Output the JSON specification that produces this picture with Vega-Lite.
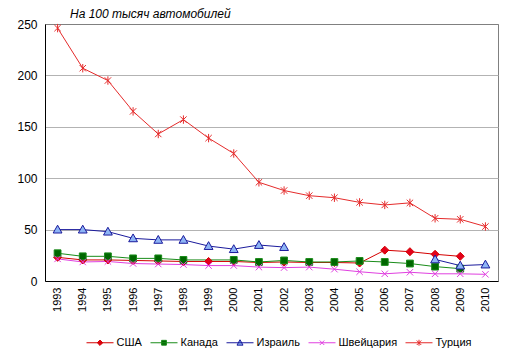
{
  "$schema": "https://vega.github.io/schema/vega-lite/v6.json",
  "width": 453,
  "height": 257,
  "autosize": {"type": "none"},
  "padding": {"left": 45, "top": 24, "right": 16, "bottom": 77},
  "background": "white",
  "config": {
    "view": {"stroke": "#808080", "strokeWidth": 1},
    "font": "Liberation Sans"
  },
  "title": {
    "text": "На 100 тысяч автомобилей",
    "anchor": "start",
    "frame": "group",
    "dx": 25,
    "dy": 17,
    "offset": 5,
    "baseline": "alphabetic",
    "font": "Liberation Sans",
    "fontSize": 12,
    "fontStyle": "italic",
    "fontWeight": "normal",
    "color": "#000000"
  },
  "data": {
    "values": [
      {"country": "США", "year": 1993, "value": 23},
      {"country": "США", "year": 1994, "value": 20.5},
      {"country": "США", "year": 1995, "value": 20.5},
      {"country": "США", "year": 1996, "value": 20},
      {"country": "США", "year": 1997, "value": 19.5},
      {"country": "США", "year": 1998, "value": 19},
      {"country": "США", "year": 1999, "value": 19},
      {"country": "США", "year": 2000, "value": 19},
      {"country": "США", "year": 2001, "value": 18},
      {"country": "США", "year": 2002, "value": 18.5},
      {"country": "США", "year": 2003, "value": 18},
      {"country": "США", "year": 2004, "value": 18},
      {"country": "США", "year": 2005, "value": 17.5},
      {"country": "США", "year": 2006, "value": 30},
      {"country": "США", "year": 2007, "value": 28.5},
      {"country": "США", "year": 2008, "value": 26},
      {"country": "США", "year": 2009, "value": 24},
      {"country": "Канада", "year": 1993, "value": 27},
      {"country": "Канада", "year": 1994, "value": 24},
      {"country": "Канада", "year": 1995, "value": 24},
      {"country": "Канада", "year": 1996, "value": 22},
      {"country": "Канада", "year": 1997, "value": 22},
      {"country": "Канада", "year": 1998, "value": 20.5},
      {"country": "Канада", "year": 2000, "value": 20.5},
      {"country": "Канада", "year": 2001, "value": 18.5},
      {"country": "Канада", "year": 2002, "value": 20},
      {"country": "Канада", "year": 2003, "value": 18.5},
      {"country": "Канада", "year": 2004, "value": 18.5},
      {"country": "Канада", "year": 2005, "value": 19.5},
      {"country": "Канада", "year": 2006, "value": 18.5},
      {"country": "Канада", "year": 2007, "value": 17},
      {"country": "Канада", "year": 2008, "value": 14},
      {"country": "Канада", "year": 2009, "value": 12},
      {"country": "Израиль", "year": 1993, "value": 50},
      {"country": "Израиль", "year": 1994, "value": 50},
      {"country": "Израиль", "year": 1995, "value": 48},
      {"country": "Израиль", "year": 1996, "value": 41.5},
      {"country": "Израиль", "year": 1997, "value": 40},
      {"country": "Израиль", "year": 1998, "value": 40},
      {"country": "Израиль", "year": 1999, "value": 34},
      {"country": "Израиль", "year": 2000, "value": 31},
      {"country": "Израиль", "year": 2001, "value": 35},
      {"country": "Израиль", "year": 2002, "value": 33},
      {"country": "Израиль", "year": 2003, "value": null},
      {"country": "Израиль", "year": 2004, "value": null},
      {"country": "Израиль", "year": 2005, "value": null},
      {"country": "Израиль", "year": 2006, "value": null},
      {"country": "Израиль", "year": 2007, "value": null},
      {"country": "Израиль", "year": 2008, "value": 21},
      {"country": "Израиль", "year": 2009, "value": 15},
      {"country": "Израиль", "year": 2010, "value": 16},
      {"country": "Швейцария", "year": 1993, "value": 21.5},
      {"country": "Швейцария", "year": 1994, "value": 18.5},
      {"country": "Швейцария", "year": 1995, "value": 19},
      {"country": "Швейцария", "year": 1996, "value": 17},
      {"country": "Швейцария", "year": 1997, "value": 16.5},
      {"country": "Швейцария", "year": 1998, "value": 16},
      {"country": "Швейцария", "year": 1999, "value": 15},
      {"country": "Швейцария", "year": 2000, "value": 15},
      {"country": "Швейцария", "year": 2001, "value": 13.5},
      {"country": "Швейцария", "year": 2002, "value": 13},
      {"country": "Швейцария", "year": 2003, "value": 13.5},
      {"country": "Швейцария", "year": 2004, "value": 11.5},
      {"country": "Швейцария", "year": 2005, "value": 9},
      {"country": "Швейцария", "year": 2006, "value": 7},
      {"country": "Швейцария", "year": 2007, "value": 8.5},
      {"country": "Швейцария", "year": 2008, "value": 7},
      {"country": "Швейцария", "year": 2009, "value": 7},
      {"country": "Швейцария", "year": 2010, "value": 6.5},
      {"country": "Турция", "year": 1993, "value": 246},
      {"country": "Турция", "year": 1994, "value": 207},
      {"country": "Турция", "year": 1995, "value": 195},
      {"country": "Турция", "year": 1996, "value": 165},
      {"country": "Турция", "year": 1997, "value": 143},
      {"country": "Турция", "year": 1998, "value": 157},
      {"country": "Турция", "year": 1999, "value": 139},
      {"country": "Турция", "year": 2000, "value": 124},
      {"country": "Турция", "year": 2001, "value": 96},
      {"country": "Турция", "year": 2002, "value": 88},
      {"country": "Турция", "year": 2003, "value": 83},
      {"country": "Турция", "year": 2004, "value": 81},
      {"country": "Турция", "year": 2005, "value": 76.5},
      {"country": "Турция", "year": 2006, "value": 74},
      {"country": "Турция", "year": 2007, "value": 76},
      {"country": "Турция", "year": 2008, "value": 61},
      {"country": "Турция", "year": 2009, "value": 60},
      {"country": "Турция", "year": 2010, "value": 53}
    ]
  },
  "encoding": {
    "x": {
      "field": "year",
      "type": "ordinal",
      "scale": {"type": "point", "padding": 0.5},
      "axis": {
        "title": null,
        "labelAngle": 270,
        "labelAlign": "right",
        "labelBaseline": "middle",
        "labelPadding": 6,
        "ticks": false,
        "domainColor": "#000000",
        "labelFontSize": 11,
        "labelColor": "#000000",
        "labelFont": "Liberation Sans",
        "grid": false
      }
    },
    "y": {
      "field": "value",
      "type": "quantitative",
      "scale": {"domain": [0, 250], "nice": false},
      "axis": {
        "title": null,
        "values": [0, 50, 100, 150, 200, 250],
        "ticks": false,
        "labelPadding": 8,
        "domainColor": "#000000",
        "gridColor": {"condition": {"test": "datum.value == 250", "value": "#808080"}, "value": "#b3b3b3"},
        "labelFontSize": 12,
        "labelColor": "#000000",
        "labelFont": "Liberation Sans"
      }
    }
  },
  "layer": [
    {
      "mark": {"type": "line", "strokeWidth": 1, "invalid": "break-paths-filter-domains"},
      "encoding": {
        "stroke": {
          "field": "country",
          "type": "nominal",
          "scale": {
            "domain": ["США", "Канада", "Израиль", "Швейцария", "Турция"],
            "range": ["#d40000", "#1a8c1a", "#1a1a9c", "#e040e0", "#e52b2b"]
          }
        }
      }
    },
    {
      "transform": [{"filter": "datum.value != null"}],
      "mark": {"type": "point", "filled": true, "size": 64, "strokeWidth": 1, "opacity": 1},
      "encoding": {
        "shape": {
          "condition": [
            {"test": "datum.country === 'США'", "value": "M0,-1L1,0L0,1L-1,0Z"},
            {"test": "datum.country === 'Канада'", "value": "M-0.85,-0.85H0.85V0.85H-0.85Z"},
            {"test": "datum.country === 'Израиль'", "value": "M0,-1.1L1.1,0.85H-1.1Z"},
            {"test": "datum.country === 'Швейцария'", "value": "M-0.8,-0.8L0.8,0.8M0.8,-0.8L-0.8,0.8"}
          ],
          "value": "M-0.8,-0.8L0.8,0.8M0.8,-0.8L-0.8,0.8M0,-1.05V1.05"
        },
        "stroke": {
          "field": "country",
          "type": "nominal"
        },
        "fill": {
          "field": "country",
          "type": "nominal",
          "scale": {
            "domain": ["США", "Канада", "Израиль", "Швейцария", "Турция"],
            "range": ["#e3001b", "#006600", "#8db4f5", "#e040e0", "#e52b2b"]
          },
          "legend": {
            "title": null,
            "orient": "none",
            "legendX": 39.5,
            "legendY": 303,
            "direction": "horizontal",
            "symbolSize": 900,
            "labelOffset": 1,
            "columnPadding": 6,
            "padding": 0,
            "labelFontSize": 11,
            "labelFont": "Liberation Sans",
            "labelColor": "#000000",
            "symbolStrokeWidth": 1
          }
        }
      }
    },
    {
      "transform": [{"filter": "datum.value != null"}],
      "mark": {"type": "point", "filled": true, "size": 0, "strokeWidth": 1, "opacity": 1},
      "encoding": {
        "shape": {
          "field": "country",
          "type": "nominal",
          "scale": {
            "domain": ["США", "Канада", "Израиль", "Швейцария", "Турция"],
            "range": [
              "M-0.9,0H0.9M0,-0.18L0.18,0L0,0.18L-0.18,0Z",
              "M-0.9,0H0.9M-0.16,-0.16H0.16V0.16H-0.16Z",
              "M-0.9,0H0.9M0,-0.2L0.2,0.16H-0.2Z",
              "M-0.9,0H0.9M-0.15,-0.15L0.15,0.15M0.15,-0.15L-0.15,0.15",
              "M-0.9,0H0.9M-0.15,-0.15L0.15,0.15M0.15,-0.15L-0.15,0.15M0,-0.2V0.2"
            ]
          }
        },
        "stroke": {
          "field": "country",
          "type": "nominal"
        },
        "fill": {
          "field": "country",
          "type": "nominal"
        }
      }
    }
  ]
}
